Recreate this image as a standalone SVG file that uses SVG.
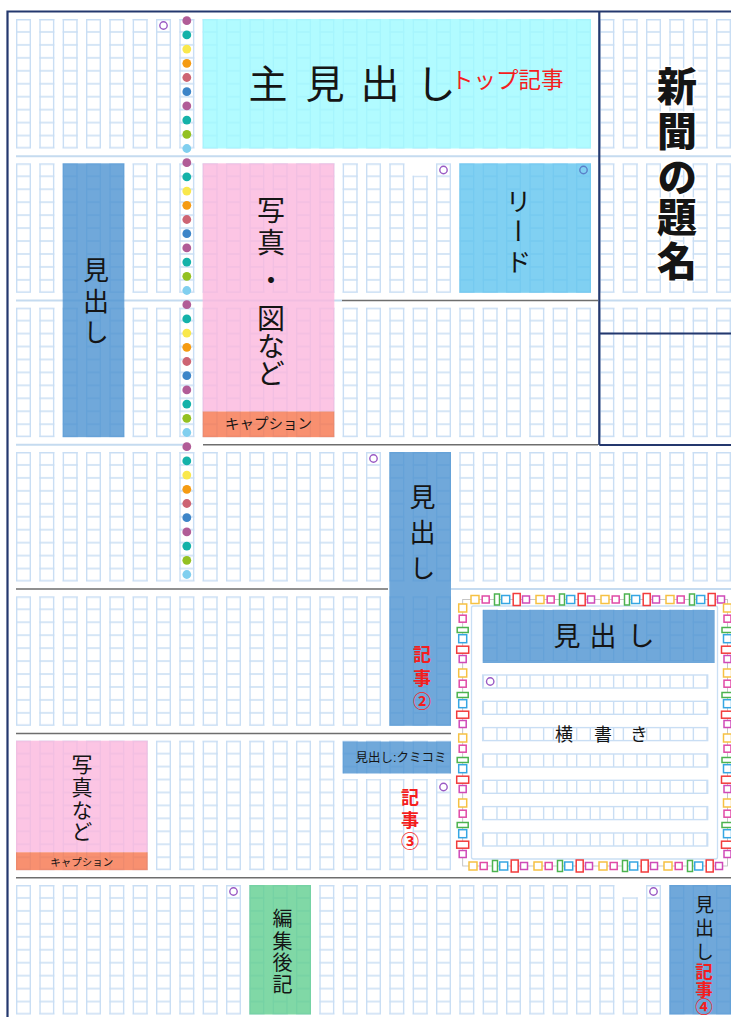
<svg xmlns="http://www.w3.org/2000/svg" xmlns:xlink="http://www.w3.org/1999/xlink" width="731" height="1017" viewBox="0 0 731 1017">
<style>
.g{fill:none;stroke:#c9def4;stroke-width:1.4}
.sl{stroke:#c5dbf0;stroke-width:2;fill:none}
.sd{stroke:#6e6e6e;stroke-width:1.6;fill:none}
.navy{stroke:#24386e;stroke-width:2.2;fill:none}
.t{font-family:"Liberation Sans","Noto Sans CJK JP",sans-serif;fill:#151515}
.v{writing-mode:vertical-rl;text-anchor:middle}
.h{dominant-baseline:central}
.m{text-anchor:middle}
.red{fill:#f41e1e}
.b{font-weight:bold}
.circ{fill:#fff;stroke:#9a5ac4;stroke-width:1.4}
.gp rect{fill:#fff;stroke-width:1.5}
.d0{fill:#b15c97}.d1{fill:#14b2a9}.d2{fill:#f9e84c}.d3{fill:#f59b12}.d4{fill:#cd6473}
.d5{fill:#3d85c8}.d8{fill:#93c122}.d9{fill:#80cfef}
.cyan{fill:#9dfaff;fill-opacity:.8}
.pink{fill:#fbb7dd;fill-opacity:.8}
.cap{fill:#f6744c;fill-opacity:.8}
.blue{fill:#4c92d1;fill-opacity:.8}
.sky{fill:#60c4ef;fill-opacity:.8}
.green{fill:#60ce90;fill-opacity:.8}
</style>
<defs>
<pattern id="cells" patternUnits="userSpaceOnUse" x="16" y="0" width="70" height="129.5">
<path class="g" d="M0.7 0V129.5M14.3 0V129.5M24.03 0V129.5M37.63 0V129.5M47.37 0V129.5M60.97 0V129.5"/>
<path class="g" stroke-dasharray="15 8.3333" d="M0 0.7H70M0 12.95H70M0 25.9H70M0 38.85H70M0 51.8H70M0 64.75H70M0 77.7H70M0 90.65H70M0 103.6H70M0 116.55H70M0 128.8H70"/>
</pattern>
<pattern id="vl" patternUnits="userSpaceOnUse" x="16" y="0" width="70" height="13">
<path class="g" d="M0.7 0V13M14.3 0V13M24.03 0V13M37.63 0V13M47.37 0V13M60.97 0V13"/>
</pattern>
<g id="band"><rect x="16" y="0" width="715" height="129.5" fill="url(#cells)"/></g>
<g id="gp" class="gp">
<rect x="0" y="-4" width="8" height="8" stroke="#f6c143"/>
<rect x="11.2" y="-3.5" width="7" height="7" stroke="#e04aa6"/>
<rect x="23.5" y="-5.5" width="5" height="11" stroke="#4cb34f"/>
<rect x="30.7" y="-4" width="8" height="8" stroke="#36a6e3"/>
<rect x="42.2" y="-6" width="7" height="12" stroke="#f23b3b"/>
<rect x="51.5" y="-3.5" width="7" height="7" stroke="#cf4ab8"/>
</g>
</defs>
<rect x="0" y="0" width="731" height="1017" fill="#fff"/>

<g id="grid">
<use href="#band" y="19"/>
<use href="#band" y="163.33"/>
<use href="#band" y="307.67"/>
<use href="#band" y="452"/>
<use href="#band" y="596.33"/>
<use href="#band" y="740.67"/>
<use href="#band" y="885"/>
<path class="sl" d="M16 156.2H731M16 300.5H342M600 300.5H731M16 444.7H183M451 589H731"/>
<path class="sd" d="M342 300.5H598M203 444.7H598M16 589H388M16 733.5H451M16 877.7H731"/>
<rect x="411.5" y="162.5" width="17" height="13.1" fill="#fff"/>
<rect x="621.5" y="884.4" width="17" height="12.8" fill="#fff"/>
<rect x="341" y="773.4" width="111" height="5.6" fill="#fff"/>
</g>

<g id="frame">
<path class="navy" d="M7.5 1017V11.5H731"/>
<path class="navy" d="M599.3 11.5V445M599.3 333.5H731M599.3 445H731"/>
</g>

<g id="dots">
<circle class="d0" cx="186.8" cy="20.7" r="4.4"/><circle class="d1" cx="186.8" cy="34.9" r="4.4"/><circle class="d2" cx="186.8" cy="49.1" r="4.4"/><circle class="d3" cx="186.8" cy="63.3" r="4.4"/><circle class="d4" cx="186.8" cy="77.5" r="4.4"/><circle class="d5" cx="186.8" cy="91.7" r="4.4"/><circle class="d0" cx="186.8" cy="105.9" r="4.4"/><circle class="d1" cx="186.8" cy="120.1" r="4.4"/><circle class="d8" cx="186.8" cy="134.3" r="4.4"/><circle class="d9" cx="186.8" cy="148.5" r="4.4"/>
<circle class="d0" cx="186.8" cy="162.7" r="4.4"/><circle class="d1" cx="186.8" cy="176.9" r="4.4"/><circle class="d2" cx="186.8" cy="191.1" r="4.4"/><circle class="d3" cx="186.8" cy="205.3" r="4.4"/><circle class="d4" cx="186.8" cy="219.5" r="4.4"/><circle class="d5" cx="186.8" cy="233.7" r="4.4"/><circle class="d0" cx="186.8" cy="247.9" r="4.4"/><circle class="d1" cx="186.8" cy="262.1" r="4.4"/><circle class="d8" cx="186.8" cy="276.3" r="4.4"/><circle class="d9" cx="186.8" cy="290.5" r="4.4"/>
<circle class="d0" cx="186.8" cy="304.7" r="4.4"/><circle class="d1" cx="186.8" cy="318.9" r="4.4"/><circle class="d2" cx="186.8" cy="333.1" r="4.4"/><circle class="d3" cx="186.8" cy="347.3" r="4.4"/><circle class="d4" cx="186.8" cy="361.5" r="4.4"/><circle class="d5" cx="186.8" cy="375.7" r="4.4"/><circle class="d0" cx="186.8" cy="389.9" r="4.4"/><circle class="d1" cx="186.8" cy="404.1" r="4.4"/><circle class="d8" cx="186.8" cy="418.3" r="4.4"/><circle class="d9" cx="186.8" cy="432.5" r="4.4"/>
<circle class="d0" cx="186.8" cy="446.7" r="4.4"/><circle class="d1" cx="186.8" cy="460.9" r="4.4"/><circle class="d2" cx="186.8" cy="475.1" r="4.4"/><circle class="d3" cx="186.8" cy="489.3" r="4.4"/><circle class="d4" cx="186.8" cy="503.5" r="4.4"/><circle class="d5" cx="186.8" cy="517.7" r="4.4"/><circle class="d0" cx="186.8" cy="531.9" r="4.4"/><circle class="d1" cx="186.8" cy="546.1" r="4.4"/><circle class="d8" cx="186.8" cy="560.3" r="4.4"/><circle class="d9" cx="186.8" cy="574.5" r="4.4"/>
</g>

<g id="markers">
<circle class="circ" cx="163.5" cy="25.5" r="3.7"/>
<circle class="circ" cx="443.5" cy="170" r="3.7"/>
<circle class="circ" cx="373.5" cy="458.5" r="3.7"/>
<circle class="circ" cx="443.5" cy="787" r="3.7"/>
<circle class="circ" cx="233.5" cy="891.5" r="3.7"/>
<circle class="circ" cx="653.5" cy="891.5" r="3.7"/>
</g>

<g id="top-article">
<rect class="cyan" x="202.67" y="19" width="388.33" height="129.5"/>
<text class="t h m" x="268 325 380 436" y="84" font-size="39">主見出し</text>
<text class="t h red" x="451" y="80" font-size="22.5">トップ記事</text>
</g>

<g id="masthead">
<text class="t v" x="674" y="86 131 177 217 261" font-size="40" font-weight="900" stroke="#fff" stroke-width="3" paint-order="stroke">新聞の題名</text>
</g>

<g id="headline-1">
<rect class="blue" x="62.67" y="163.33" width="61.67" height="273.84"/>
<text class="t v" x="93.5" y="270 301 332" font-size="26">見出し</text>
</g>

<g id="photo-1">
<rect class="pink" x="202.67" y="163.33" width="131.67" height="248.17"/>
<rect class="cap" x="202.67" y="411.5" width="131.67" height="25.67"/>
<text class="t v" x="268.5" y="210 242 280 318 346 373" font-size="28">写真・図など</text>
<text class="t h m" x="268.5" y="424.3" font-size="14.5">キャプション</text>
</g>

<g id="lead">
<rect class="sky" x="459.33" y="163.33" width="131.67" height="129.5"/>
<circle cx="583.5" cy="170" r="3.7" fill="none" stroke="#5a7fc8" stroke-width="1.4"/>
<text class="t v" x="516" y="201 231 262" font-size="26">リード</text>
</g>

<g id="article-2">
<rect class="blue" x="389.33" y="452" width="61.67" height="273.83"/>
<text class="t v" x="420" y="497.5 532 568" font-size="26">見出し</text>
<text class="t v red b" x="420" y="654 678 701" font-size="18">記事②</text>
</g>

<g id="yokogaki">
<rect x="455" y="591" width="276" height="281" fill="#fff"/>
<rect x="462.7" y="599.5" width="264.8" height="266.5" fill="none" stroke="#b8b8b8" stroke-width="0.8"/>
<rect x="471.5" y="606" width="246" height="253" rx="2" fill="#fff" stroke="#cadff4" stroke-width="1.3"/>
<g transform="translate(0,596.33)"><rect x="482.67" y="12.95" width="225" height="51.8" fill="url(#cells)"/></g>
<rect class="blue" x="482.67" y="610" width="232" height="53"/>
<text class="t h m" x="567 603 641" y="637" font-size="27">見出し</text>
<g class="g">
<rect x="482.67" y="675" width="225" height="13" fill="url(#vl)"/>
<rect x="482.67" y="701.3" width="225" height="13" fill="url(#vl)"/>
<rect x="482.67" y="727.6" width="225" height="13" fill="url(#vl)"/>
<rect x="482.67" y="754" width="225" height="13" fill="url(#vl)"/>
<rect x="482.67" y="780.3" width="225" height="13" fill="url(#vl)"/>
<rect x="482.67" y="806.6" width="225" height="13" fill="url(#vl)"/>
<rect x="482.67" y="833" width="225" height="13" fill="url(#vl)"/>
</g>
<circle class="circ" cx="490.2" cy="681.5" r="3.7"/>
<text class="t h m" x="564 603 639" y="735" font-size="18">横書き</text>
<use href="#gp" transform="translate(471,599.5)"/>
<use href="#gp" transform="translate(536,599.5)"/>
<use href="#gp" transform="translate(601,599.5)"/>
<use href="#gp" transform="translate(666,599.5)"/>
<use href="#gp" transform="translate(469,866)"/>
<use href="#gp" transform="translate(534,866)"/>
<use href="#gp" transform="translate(599,866)"/>
<use href="#gp" transform="translate(664,866)"/>
<use href="#gp" transform="translate(462.7,604) rotate(90)"/>
<use href="#gp" transform="translate(462.7,669) rotate(90)"/>
<use href="#gp" transform="translate(462.7,734) rotate(90)"/>
<use href="#gp" transform="translate(462.7,799) rotate(90)"/>
<use href="#gp" transform="translate(727.5,604) rotate(90)"/>
<use href="#gp" transform="translate(727.5,669) rotate(90)"/>
<use href="#gp" transform="translate(727.5,734) rotate(90)"/>
<use href="#gp" transform="translate(727.5,799) rotate(90)"/>
</g>

<g id="article-3">
<rect class="blue" x="342.67" y="741.5" width="108.33" height="32"/>
<text class="t h m" x="401" y="758" font-size="12.5">見出し:クミコミ</text>
<text class="t v red b" x="408" y="797 820 841" font-size="18">記事③</text>
</g>

<g id="photo-2">
<rect class="pink" x="16" y="740.67" width="131.67" height="111.6"/>
<rect class="cap" x="16" y="852.27" width="131.67" height="17.9"/>
<text class="t v" x="80.5" y="764 787 810 831" font-size="21">写真など</text>
<text class="t h m" x="81.8" y="861.5" font-size="10.5">キャプション</text>
</g>

<g id="afterword">
<rect class="green" x="249.33" y="885" width="61.67" height="129.5"/>
<text class="t v" x="281" y="918 941 962 984" font-size="20">編集後記</text>
</g>

<g id="article-4">
<rect class="blue" x="669.33" y="885" width="61.67" height="129.5"/>
<text class="t v" x="702.5" y="905 928 952" font-size="19">見出し</text>
<text class="t v red b" x="702.5" y="971 989 1006" font-size="17.5">記事④</text>
</g>
</svg>
